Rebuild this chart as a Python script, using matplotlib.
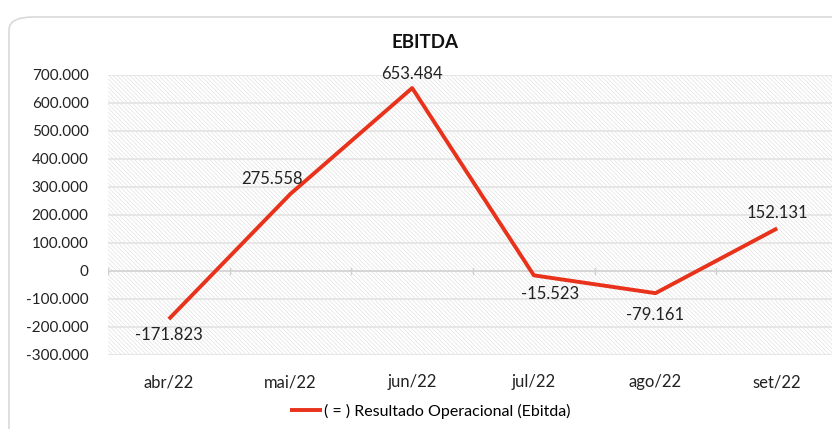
import numpy as np
import matplotlib.pyplot as plt
from matplotlib.patches import FancyBboxPatch, Rectangle

plt.rcParams["font.family"] = ["Lato", "DejaVu Sans"]
plt.rcParams["hatch.color"] = "#e2e2e2"
plt.rcParams["hatch.linewidth"] = 0.5

months = ["abr/22", "mai/22", "jun/22", "jul/22", "ago/22", "set/22"]
ebitda = [-171823, 275558, 653484, -15523, -79161, 152131]
y_ticks = [-300000, -200000, -100000, 0, 100000, 200000, 300000, 400000, 500000, 600000, 700000]
series_name = "( = ) Resultado Operacional (Ebitda)"

# label offsets in points (dx, dy)
label_offsets = [(0, -6), (-13, 5), (0, 4), (12, -8), (0, -10), (0, 5)]


def fmt_br(v):
    return f"{int(round(v)):,}".replace(",", ".")


fig = plt.figure(figsize=(8.32, 4.29), dpi=100)

frame = FancyBboxPatch((9 / 832, -0.2), 1.2, 1 - 17 / 429 + 0.2,
                       boxstyle="round,pad=0,rounding_size=0.03",
                       transform=fig.transFigure, facecolor="white",
                       edgecolor="#d9d9d9", linewidth=1.2, zorder=-5)
fig.patches.append(frame)

ax = fig.add_axes([108 / 832, 1 - 355 / 429, 730 / 832, 280 / 429])
ax.set_zorder(1)
ax.set_facecolor("none")
x = np.arange(len(months))
ax.set_xlim(-0.5, len(months) - 0.5)
ax.set_ylim(y_ticks[0], y_ticks[-1])

ax.add_patch(Rectangle((0, 0), 1, 1, transform=ax.transAxes, facecolor="white",
                       hatch="\\\\\\\\\\\\\\\\", edgecolor="#e2e2e2", linewidth=0, zorder=0))

for yv in y_ticks:
    if yv != 0:
        ax.axhline(yv, color="#e3e3e3", linewidth=1.2, zorder=1)
ax.axhline(0, color="#d0d0d0", linewidth=1.2, zorder=1)
for b in np.arange(-0.5, len(months), 1.0):
    ax.plot([b, b], [-10000, 10000], color="#d0d0d0", linewidth=1.0, zorder=1)

ax.plot(x, ebitda, color="#e8321b", linewidth=2.8, solid_capstyle="butt", zorder=3,
        label=series_name)

for xi, v, (dx, dy) in zip(x, ebitda, label_offsets):
    ax.annotate(fmt_br(v), (xi, v), xytext=(dx, dy), textcoords="offset points",
                ha="center", va="bottom" if dy > 0 else "top", fontsize=12,
                color="#222222", zorder=4)

ax.set_yticks(y_ticks)
ax.set_yticklabels([fmt_br(t) for t in y_ticks], fontsize=11, color="#222222")
ax.set_xticks(x)
ax.set_xticklabels(months, fontsize=12, color="#222222")
ax.tick_params(axis="both", length=0)
ax.tick_params(axis="y", pad=14)
ax.tick_params(axis="x", pad=14)
for s in ax.spines.values():
    s.set_visible(False)

fig.text(425 / 832, 1 - 43 / 429, "EBITDA", ha="center", va="center",
         fontsize=13.5, fontweight="bold", color="#111111")

fig.legend(loc="center", bbox_to_anchor=(430 / 832, 1 - 411 / 429), frameon=False,
           fontsize=11.5, handlelength=2.0, handletextpad=0.1)

fig.savefig("out.png", dpi=100)
